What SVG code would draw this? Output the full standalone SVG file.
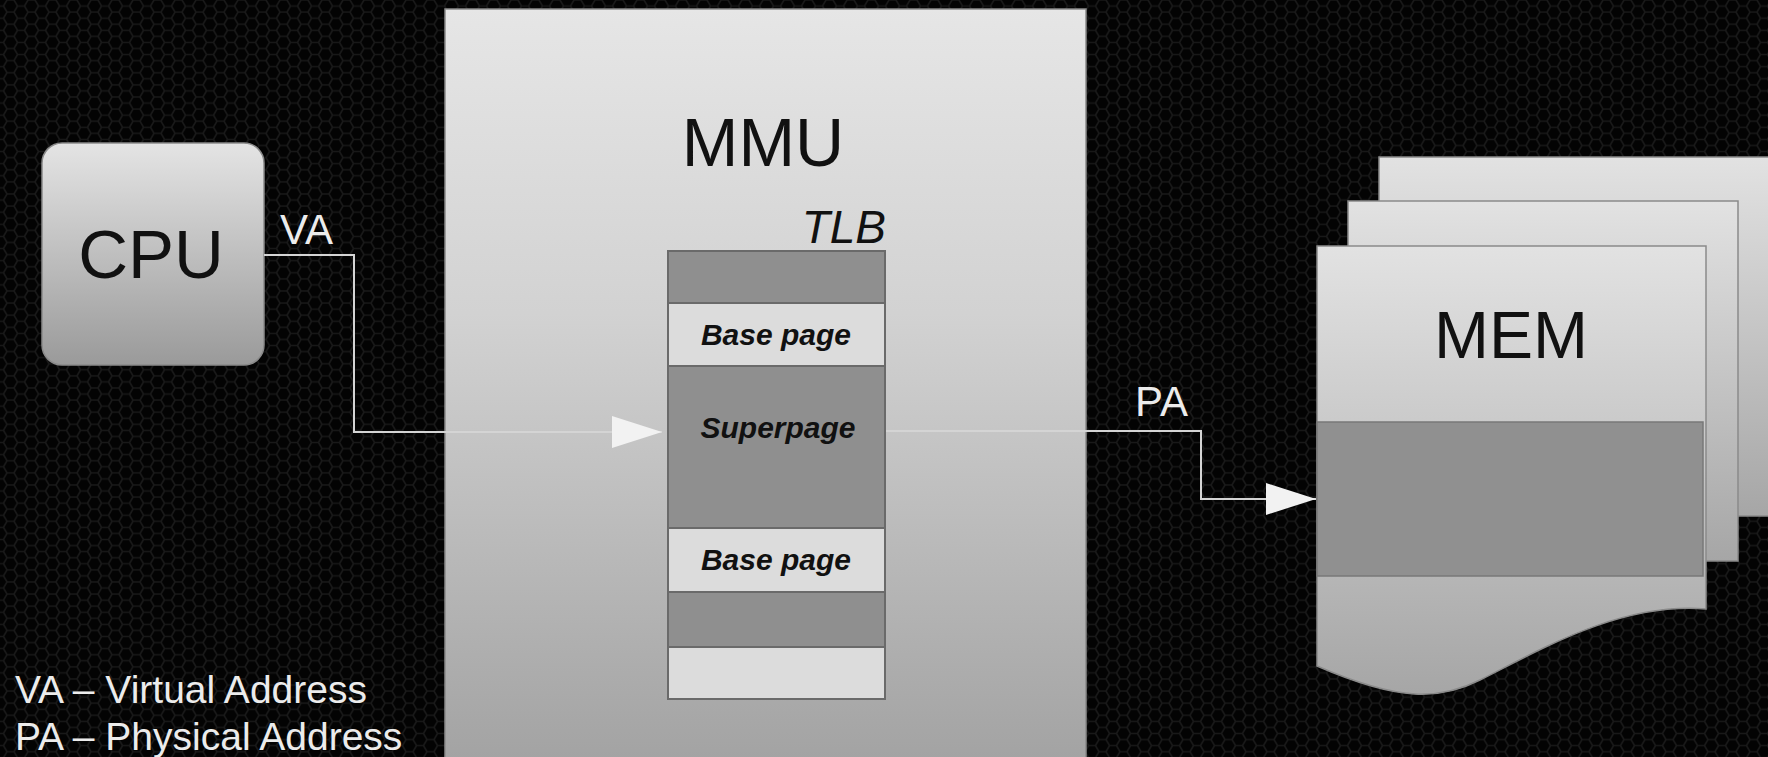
<svg xmlns="http://www.w3.org/2000/svg" width="1768" height="757" viewBox="0 0 1768 757">
<defs>
  <pattern id="hex" width="21" height="12.124" patternUnits="userSpaceOnUse">
    <rect width="21" height="12.124" fill="#030303"/>
    <path d="M0,6.062 H3.5 L7,0 H14 L17.5,6.062 H21 M3.5,6.062 L7,12.124 H14 L17.5,6.062" fill="none" stroke="#191919" stroke-width="1.6"/>
  </pattern>
  <linearGradient id="gCpu" x1="0" y1="0" x2="0" y2="1">
    <stop offset="0" stop-color="#e4e4e4"/>
    <stop offset="1" stop-color="#9a9a9a"/>
  </linearGradient>
  <linearGradient id="gMmu" x1="0" y1="0" x2="0" y2="1">
    <stop offset="0" stop-color="#e6e6e6"/>
    <stop offset="0.4" stop-color="#d2d2d2"/>
    <stop offset="1" stop-color="#a2a2a2"/>
  </linearGradient>
  <linearGradient id="gSheet" x1="0" y1="0" x2="0" y2="1">
    <stop offset="0" stop-color="#e2e2e2"/>
    <stop offset="1" stop-color="#a6a6a6"/>
  </linearGradient>
  <marker id="arrow" markerUnits="userSpaceOnUse" markerWidth="52" markerHeight="34" refX="50" refY="16" orient="auto">
    <path d="M0,0 L50,16 L0,32 Z" fill="#f2f2f2"/>
  </marker>
  <style>
    .lbl{font-family:"Liberation Sans",Arial,sans-serif;fill:#111}
    .wht{font-family:"Liberation Sans",Arial,sans-serif;fill:#ececec}
    .row-d{fill:#8f8f8f;stroke:#6a6a6a;stroke-width:2}
    .row-l{fill:#dcdcdc;stroke:#6a6a6a;stroke-width:2}
    .pg{font-family:"Liberation Sans",Arial,sans-serif;font-weight:bold;font-style:italic;font-size:30px;fill:#111;text-anchor:middle}
    .conn{fill:none;stroke:#d4d4d4;stroke-width:2}
    .sheet{fill:url(#gSheet);stroke:#8a8a8a;stroke-width:1.5}
  </style>
</defs>
<rect width="1768" height="757" fill="url(#hex)"/>

<g id="mmu">
  <rect x="445" y="9" width="641" height="760" fill="url(#gMmu)" stroke="#8a8a8a" stroke-width="1.5"/>
  <text class="lbl" x="763" y="166" font-size="68" text-anchor="middle">MMU</text>
</g>

<g id="cpu">
  <rect x="42" y="143" width="222" height="222" rx="20" fill="url(#gCpu)" stroke="#8a8a8a" stroke-width="1.5"/>
  <text class="lbl" x="151" y="278" font-size="69" text-anchor="middle">CPU</text>
</g>

<g id="tlb">
  <text class="lbl" x="886" y="243" font-size="46" font-style="italic" text-anchor="end">TLB</text>
  <rect class="row-d" x="668" y="251" width="217" height="52"/>
  <rect class="row-l" x="668" y="303" width="217" height="63"/>
  <rect class="row-d" x="668" y="366" width="217" height="162"/>
  <rect class="row-l" x="668" y="528" width="217" height="64"/>
  <rect class="row-d" x="668" y="592" width="217" height="55"/>
  <rect class="row-l" x="668" y="647" width="217" height="52"/>
  <text class="pg" x="776" y="345">Base page</text>
  <text class="pg" x="778" y="438">Superpage</text>
  <text class="pg" x="776" y="570">Base page</text>
</g>

<g id="mem">
  <rect class="sheet" x="1379" y="157" width="400" height="359"/>
  <rect class="sheet" x="1348" y="201" width="390" height="360"/>
  <path class="sheet" d="M1317,246 H1706 V609 C1620,602 1540,650 1480,680 C1440,700 1400,702 1317,666 Z"/>
  <rect x="1317" y="422" width="386" height="154" fill="#909090" stroke="#787878" stroke-width="1.5"/>
  <text class="lbl" x="1511" y="358" font-size="66" text-anchor="middle">MEM</text>
</g>

<g id="connectors">
  <polyline class="conn" points="264,255 354,255 354,432 662,432" marker-end="url(#arrow)"/>
  <polyline class="conn" points="886,431 1201,431 1201,499 1316,499" marker-end="url(#arrow)"/>
  <text class="wht" x="280" y="244" font-size="42">VA</text>
  <text class="wht" x="1135" y="416" font-size="42">PA</text>
</g>

<g id="legend">
  <text class="wht" x="15" y="703" font-size="39">VA – Virtual Address</text>
  <text class="wht" x="15" y="750" font-size="39">PA – Physical Address</text>
</g>
</svg>
